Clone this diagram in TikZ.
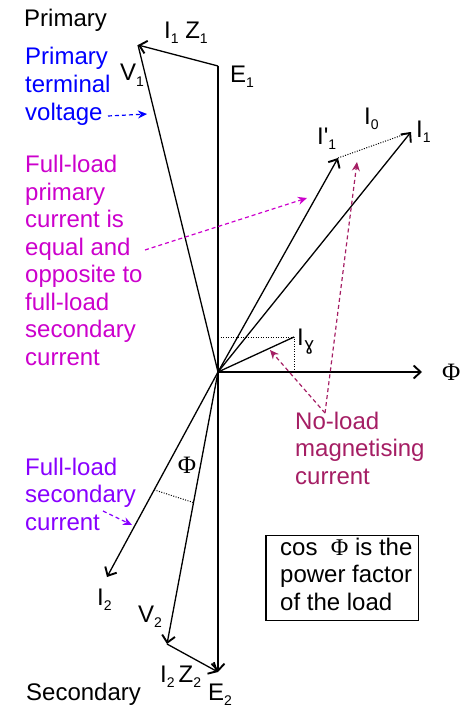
\documentclass[tikz,border=0pt]{standalone}
\usepackage{fontspec}
\setmainfont{Liberation Sans}[Ligatures=TeXOff]
\newfontfamily\phifont{Liberation Serif}
\newfontfamily\djv{DejaVu Sans}
\usetikzlibrary{arrows.meta,calc}
\definecolor{cblue}{RGB}{0,0,255}
\definecolor{cmag}{RGB}{204,0,204}
\definecolor{ccrim}{RGB}{165,30,100}
\definecolor{cviol}{RGB}{136,0,255}
\newcommand\sbx[1]{\raisebox{-0.45ex}{\fontsize{14}{14}\selectfont #1}}
\begin{document}
\begin{tikzpicture}[x=1pt,y=-1pt,
  font=\fontsize{24}{27.5}\selectfont,
  plain/.style={line width=1.3pt},
  vec/.style={line width=1.3pt,-{Straight Barb[length=7pt,width=13pt,line width=1.9pt]}},
  dots/.style={line width=1pt,dash pattern=on 1pt off 1.5pt},
  lbl/.style={inner sep=0pt,anchor=base west},
  note/.style={lbl,align=left},
  callout/.style={line width=1.2pt,dash pattern=on 4pt off 3pt,-{Stealth[length=9pt,width=8pt]}},
  frame/.style={draw,line width=1.2pt}]
\useasboundingbox (0,0) rectangle (472,709);
% phasor points
\coordinate (O) at (218,372);
\coordinate (E1) at (218,66);
\coordinate (V1) at (138,45);
\coordinate (E2) at (218,672);
\coordinate (V2) at (167,644);
\coordinate (I2) at (107,577);
\coordinate (I1p) at (338,158);
\coordinate (I1) at (411,132);
\coordinate (Iphi) at (294,337);
\coordinate (Phi) at (422,372);
% phasors
\draw[plain] (E1) -- (O);
\draw[vec] (O) -- (E2);
\draw[vec] (E1) -- (V1);
\draw[plain] (O) -- (V1);
\draw[vec] (O) -- (I1p);
\draw[vec] (O) -- (I1);
\draw[dots] (I1p) -- (I1);
\draw[plain] (O) -- (Iphi);
\draw[dots] (O |- Iphi) -- (Iphi) -- (Iphi |- O);
\draw[vec] (O) -- (Phi);
\draw[vec] (O) -- (I2);
\draw[vec] (O) -- (V2);
\draw[vec] (V2) -- (E2);
\coordinate (angA) at ($(O)!0.575!(I2)$);
\coordinate (angB) at ($(O)!0.48!(V2)$);
\draw[dots] (angA) -- (angB);
% labels
\node[lbl] (prim) at (24,27) {Primary};
\node[lbl] (sec) at (26,700) {Secondary};
\node[lbl] (i1z1) at (164,38) {I\sbx{1} Z\sbx{1}};
\node[lbl] (e1l) at (230,82) {E\sbx{1}};
\node[lbl] (v1l) at (120,81) {V\sbx{1}};
\node[lbl] (i1pl) at (317,144) {I'\sbx{1}};
\node[lbl] (i0l) at (364,124) {I\sbx{0}};
\node[lbl] (i1l) at (416,137) {I\sbx{1}};
\node[lbl] (iphil) at (297,345) {I\sbx{\djv\fontsize{18}{18}\selectfont ɣ}};
\node[anchor=west,inner sep=0pt] (phil) at (442,372) {\phifont\fontsize{25}{25}\selectfont Φ};
\node[inner sep=0pt] (phiang) at (187,465) {\phifont\fontsize{25}{25}\selectfont Φ};
\node[lbl] (i2l) at (97,605) {I\sbx{2}};
\node[lbl] (v2l) at (138,622) {V\sbx{2}};
\node[lbl] (i2z2l) at (160,682) {I\sbx{2}\,Z\sbx{2}};
\node[lbl] (e2l) at (208,700) {E\sbx{2}};
% notes (anchored at the baseline of their last line)
\node[note,text=cblue] (ptv) at (25,120) {Primary\\terminal\\voltage};
\coordinate (ptvA) at (108,116);
\coordinate (ptvB) at (147,114);
\draw[callout,cblue] (ptvA) -- (ptvB);
\node[note,text=cmag] (flp) at (25,365) {Full-load\\primary\\current is\\equal and\\opposite to\\full-load\\secondary\\current};
\coordinate (flpA) at (145,250);
\coordinate (flpB) at (307,198);
\draw[callout,cmag] (flpA) -- (flpB);
\node[note,text=ccrim] (nol) at (295,484) {No-load\\magnetising\\current};
\coordinate (nolA) at (325,413);
\coordinate (nolB) at (270,350);
\coordinate (nolC) at (357,162);
\draw[callout,ccrim] (nolA) -- (nolB);
\draw[callout,ccrim] (nolA) -- (nolC);
\node[note,text=cviol] (fls) at (25,530) {Full-load\\secondary\\current};
\coordinate (flsA) at (103,511);
\coordinate (flsB) at (132,525);
\draw[callout,cviol] (flsA) -- (flsB);
\node[note] (pf) at (280,610) {cos\ \ {\phifont Φ} is the\\power factor\\of the load};
\draw[frame] ($(pf.north west)+(-14,-2)$) rectangle ($(pf.south east)+(6,10)$);
\end{tikzpicture}
\end{document}
